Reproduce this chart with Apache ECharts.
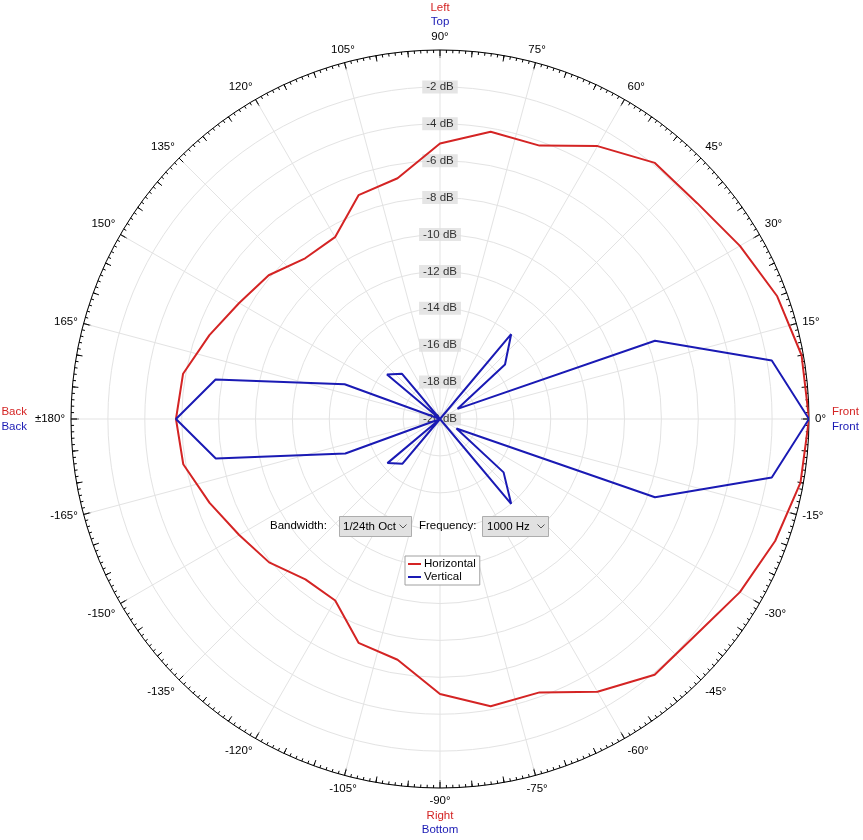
<!DOCTYPE html>
<html>
<head>
<meta charset="utf-8">
<script src="https://cdn.jsdelivr.net/npm/echarts@6/dist/echarts.min.js"></script>
<style>html,body{margin:0;padding:0;background:#fff;}#c{width:863px;height:840px;}</style>
</head>
<body>
<div id="c"></div>
<script>
// ---- data ----
const angles = [0,10,20,30,40,50,60,70,80,90,100,110,120,130,140,150,160,170,180,190,200,210,220,230,240,250,260,270,280,290,300,310,320,330,340,350,360];
const horizontalDb = [0,-0.1,-0.55,-1.23,-1.8,-1.88,-2.92,-4.23,-4.19,-5.07,-6.75,-7.09,-8.62,-8.63,-7.88,-7.43,-6.7,-5.86,-5.69,-5.87,-6.71,-7.43,-7.91,-8.65,-8.64,-7.09,-6.75,-5.1,-4.19,-4.23,-2.93,-1.9,-1.85,-1.23,-0.67,-0.16,0];
const verticalDb = [0,-1.74,-7.6,-18.9,-15.4,-14.0,-20,-20,-20,-20,-20,-20,-20,-16.8,-16.25,-20,-14.5,-7.65,-5.69,-7.66,-14.54,-20,-16.28,-16.84,-20,-20,-20,-20,-20,-20,-20,-14.0,-15.5,-18.97,-7.6,-1.74,0];
const dbTicks = [-2,-4,-6,-8,-10,-12,-14,-16,-18,-20];
const seriesNames = ['Horizontal','Vertical'];

const RED = '#d42424', BLUE = '#1a1ab4';
const FONT = 'Liberation Sans, Arial, sans-serif';
const FS = 11.5;
const CX = 440, CY = 419, R = 369;

const chart = echarts.init(document.getElementById('c'), null, {renderer:'canvas'});

function angLabel(v){
  if (v === 360) return '';
  if (v === 90) return '{r|Left}\n{b|Top}\n{k|90°}';
  if (v === 270) return '{k|-90°}\n{r|Right}\n{b|Bottom}';
  if (v === 180) return '{k|±180°}';
  if (v > 180) return '{k|' + (v-360) + '°}';
  return '{k|' + v + '°}';
}
const rich = {
  r:{color:RED,fontSize:FS,fontFamily:FONT,lineHeight:14.5},
  b:{color:BLUE,fontSize:FS,fontFamily:FONT,lineHeight:14.5},
  k:{color:'#000',fontSize:FS,fontFamily:FONT,lineHeight:14.5}
};

const txt = (t,x,y,color,align) => ({type:'text',x:x,y:y,silent:true,z:10,
  style:{text:t,fill:color||'#000',font:FS+'px '+FONT,textAlign:align||'left',textVerticalAlign:'middle'}});

const option = {
  animation:false,
  backgroundColor:'#fff',
  polar:[{center:[CX,CY],radius:R},{center:[CX,CY],radius:R}],
  angleAxis:[{
    polarIndex:0,type:'value',min:0,max:360,interval:15,startAngle:0,clockwise:false,
    axisLine:{show:true,lineStyle:{color:'#000',width:1}},
    axisTick:{show:true,inside:true,length:8,lineStyle:{color:'#000',width:1}},
    minorTick:{show:true,splitNumber:15,length:3,lineStyle:{color:'#000',width:1}},
    splitLine:{show:true,lineStyle:{color:'#e3e3e3',width:1}},
    axisLabel:{show:true,margin:6,formatter:angLabel,rich:rich,color:'#000',fontSize:FS,fontFamily:FONT}
  },{
    polarIndex:1,type:'value',min:0,max:360,interval:5,startAngle:0,clockwise:false,
    axisLine:{show:false},
    axisTick:{show:true,inside:true,length:6,lineStyle:{color:'#000',width:1}},
    splitLine:{show:false},
    axisLabel:{show:false}
  }],
  radiusAxis:[{
    polarIndex:0,type:'value',min:-20,max:0,interval:2,
    axisLine:{show:false},axisTick:{show:false},axisLabel:{show:false},
    splitLine:{show:true,lineStyle:{color:'#e3e3e3',width:1}}
  },{
    polarIndex:1,type:'value',min:-20,max:0,
    axisLine:{show:false},axisTick:{show:false},axisLabel:{show:false},splitLine:{show:false}
  }],
  legend:{
    data:seriesNames,orient:'vertical',left:405,top:556,
    backgroundColor:'#fff',borderColor:'#a0a0a0',borderWidth:1,borderRadius:0,
    padding:[2,4,2,3],itemGap:1,itemWidth:13,itemHeight:2,icon:'rect',
    textStyle:{color:'#000',fontSize:FS,fontFamily:FONT,padding:[0,0,0,-2]},
    selectedMode:false
  },
  series:[{
    name:'dBLabels',type:'scatter',coordinateSystem:'polar',polarIndex:0,z:2,silent:true,
    symbolSize:1,itemStyle:{color:'rgba(0,0,0,0)'},
    data:dbTicks.map(v=>[v,90]),
    label:{show:true,position:'inside',formatter:p=>p.value[0]+' dB',color:'#000',
      fontSize:FS,fontFamily:FONT,backgroundColor:'#dedede',padding:[1,4,0,4]}
  },{
    name:seriesNames[0],type:'line',coordinateSystem:'polar',polarIndex:0,z:4,
    symbol:'none',smooth:false,color:RED,lineStyle:{color:RED,width:2},
    data:angles.map((a,i)=>[horizontalDb[i],a])
  },{
    name:seriesNames[1],type:'line',coordinateSystem:'polar',polarIndex:0,z:5,
    symbol:'none',smooth:false,color:BLUE,lineStyle:{color:BLUE,width:2},
    data:angles.map((a,i)=>[verticalDb[i],a])
  }],
  graphic:[
    txt('Front',CX+R+23,CY-7,RED),
    txt('Front',CX+R+23,CY+8,BLUE),
    txt('Back',27,CY-7,RED,'right'),
    txt('Back',27,CY+8,BLUE,'right'),
    txt('Bandwidth:',270,526,'#000'),
    {type:'rect',z:10,silent:true,shape:{x:339.5,y:516.5,width:72,height:20},style:{fill:'#e1e1e1',stroke:'#adadad',lineWidth:1}},
    txt('1/24th Oct',343,526.5,'#000'),
    {type:'polyline',z:11,silent:true,shape:{points:[[399.5,524.5],[403,528],[406.5,524.5]]},style:{stroke:'#555',lineWidth:1,fill:null}},
    txt('Frequency:',419,526,'#000'),
    {type:'rect',z:10,silent:true,shape:{x:482.5,y:516.5,width:66,height:20},style:{fill:'#e1e1e1',stroke:'#adadad',lineWidth:1}},
    txt('1000 Hz',487,526.5,'#000'),
    {type:'polyline',z:11,silent:true,shape:{points:[[537.5,524.5],[541,528],[544.5,524.5]]},style:{stroke:'#555',lineWidth:1,fill:null}}
  ]
};
chart.setOption(option);
</script>
</body>
</html>
